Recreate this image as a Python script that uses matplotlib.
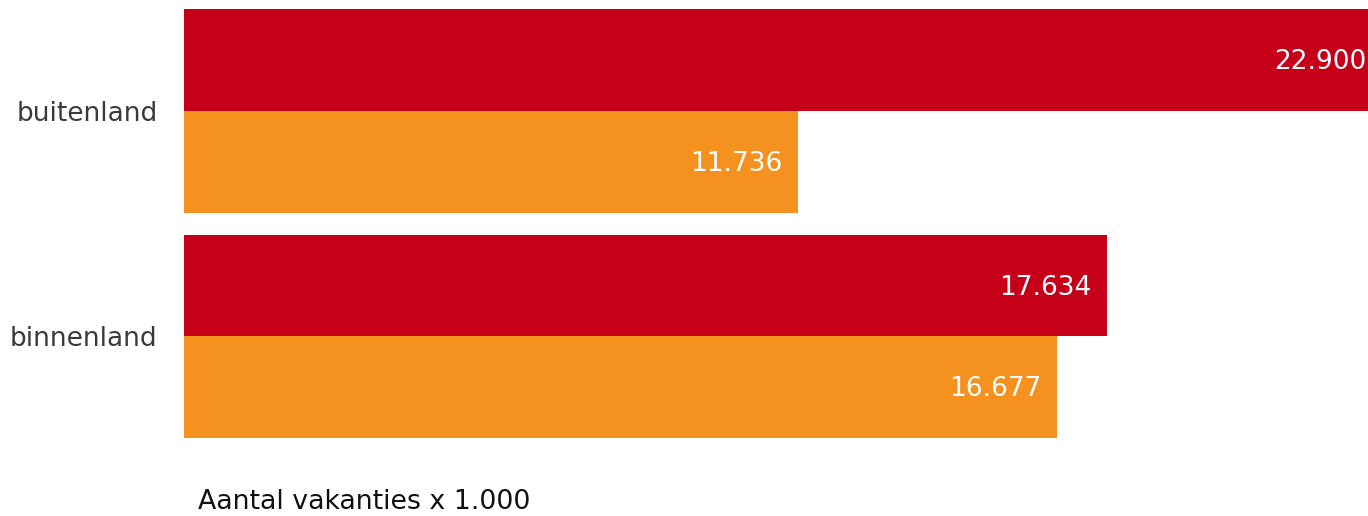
import matplotlib
matplotlib.use("Agg")
import matplotlib.pyplot as plt
import numpy as np

# data
categorieen = ["binnenland", "buitenland"]
reeks_rood = [17634, 22900]
reeks_oranje = [16677, 11736]
labels_rood = ["17.634", "22.900"]
labels_oranje = ["16.677", "11.736"]

ROOD = "#C50018"
ORANJE = "#F5921F"

plt.rcParams["font.family"] = ["DejaVu Sans"]

fig = plt.figure(figsize=(13.68, 5.16), dpi=100)
ax = fig.add_axes([184 / 1368, 0, 1 - 184 / 1368, 1])

y = np.arange(len(categorieen))
h = 0.452
bars_r = ax.barh(y + h / 2, reeks_rood, height=h, color=ROOD)
bars_o = ax.barh(y - h / 2, reeks_oranje, height=h, color=ORANJE)

for bars, labels in ((bars_r, labels_rood), (bars_o, labels_oranje)):
    for b, lab in zip(bars, labels):
        ax.annotate(lab, (b.get_width(), b.get_y() + b.get_height() / 2),
                    xytext=(-16, -2), textcoords="offset pixels",
                    ha="right", va="center", color="white", fontsize=19,
                    annotation_clip=False)

ax.set_xlim(0, 22620)
ax.set_ylim(-0.796, 1.492)
ax.set_yticks(y)
ax.set_yticklabels(categorieen, fontsize=19, color="#3a3a3a")
ax.tick_params(axis="y", length=0, pad=19)
ax.set_xticks([])
for s in ax.spines.values():
    s.set_visible(False)

fig.text(198 / 1368, 1 - 502 / 516, "Aantal vakanties x 1.000",
         fontsize=19.3, color="#111111", ha="left", va="center")

fig.savefig("out.png", dpi=100)
